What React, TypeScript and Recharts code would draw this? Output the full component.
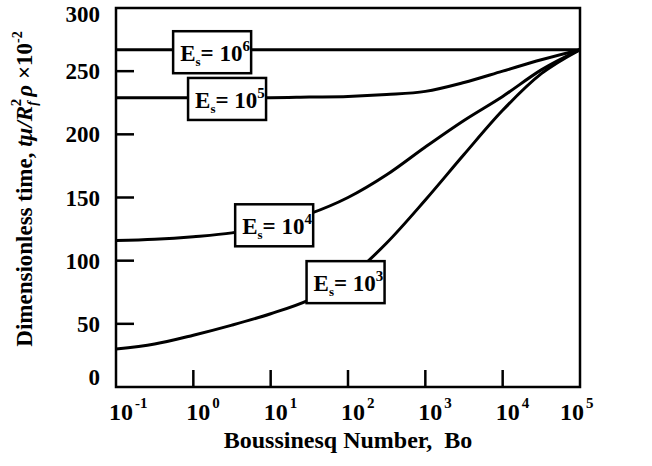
import React from "react";
import {
  LineChart,
  Line,
  XAxis,
  YAxis,
  ReferenceArea,
  ReferenceDot,
} from "recharts";

// Boussinesq number (log axis)
const bo = [0.1, 0.316, 1, 3.16, 10, 31.6, 100, 316, 1000, 3160, 10000, 31600, 100000];

// dimensionless time x 10^-2 for each E_s
const es6 = [267, 267, 267, 267, 267, 267, 267, 267, 267, 267, 267, 267, 267];
const es5 = [229, 229, 229, 229, 229, 229.5, 230, 231.5, 234, 241, 250, 259, 267];
const es4 = [116, 117, 119, 122, 128, 137, 150, 168, 190, 211, 230, 251, 267];
const es3 = [30, 34, 41, 49, 58, 69, 86, 114, 148, 184, 219, 248, 267];

const xTicks = [0.1, 1, 10, 100, 1000, 10000, 100000];
const xExp = ["-1", "0", "1", "2", "3", "4", "5"];
const yTicks = [0, 50, 100, 150, 200, 250, 300];

// label boxes: exponent + where the box sits
const boxExp = ["6", "5", "4", "3"];
const boxBo = [1.75, 2.73, 11.1, 93];
const boxVal = [265, 228, 128, 83];

const data = bo.map((b, i) => ({
  bo: b,
  e6: es6[i],
  e5: es5[i],
  e4: es4[i],
  e3: es3[i],
}));

const FONT = "'Liberation Serif', 'Times New Roman', serif";

const XTick = (props: any) => {
  const { x, y, payload } = props;
  const i = xTicks.indexOf(payload.value);
  const last = xTicks.length - 1;
  const inner = i > 0 && i < last;
  // "10" starts just left of the tick, last label pulled in
  const dx = i === last ? -20 : -7;
  return (
    <g>
      {inner && <line x1={x} y1={y} x2={x} y2={y - 17} stroke="#000" strokeWidth={2.5} />}
      <text
        x={x + dx}
        y={y + 33}
        textAnchor="start"
        fontFamily={FONT}
        fontWeight="bold"
        fontSize={24}
        fill="#000"
      >
        10
        <tspan fontSize={15} dy={-12} dx={2}>
          {xExp[i]}
        </tspan>
      </text>
    </g>
  );
};

const YTick = (props: any) => {
  const { x, y, payload } = props;
  const v = payload.value;
  const inner = v > 0 && v < 300;
  // the end labels sit a little inside in the original
  const shift = v === 300 ? 6 : v === 0 ? -10 : 0;
  return (
    <g>
      {inner && <line x1={x} y1={y} x2={x + 18} y2={y} stroke="#000" strokeWidth={2.5} />}
      <text
        x={x - 16}
        y={y + shift + 8}
        textAnchor="end"
        fontFamily={FONT}
        fontWeight="bold"
        fontSize={23}
        fill="#000"
      >
        {v}
      </text>
    </g>
  );
};

const EsBox = (exp: string) => (props: any) => {
  const { cx, cy } = props;
  return (
    <g>
      <rect x={cx - 39} y={cy - 21} width={78} height={42} fill="#fff" stroke="#000" strokeWidth={2.5} />
      <text x={cx - 32} y={cy + 9} fontFamily={FONT} fontWeight="bold" fontSize={23} fill="#000">
        E
        <tspan fontSize={13} dy={5}>
          s
        </tspan>
        <tspan dy={-5}>= 10</tspan>
        <tspan fontSize={15} dy={-10}>
          {exp}
        </tspan>
      </text>
    </g>
  );
};

const YLabel = () => (
  <text
    transform="translate(32, 189) rotate(-90)"
    textAnchor="middle"
    fontFamily={FONT}
    fontWeight="bold"
    fontSize={23}
    fill="#000"
  >
    Dimensionless time,{" "}
    <tspan fontStyle="italic">tμ/R</tspan>
    <tspan fontSize={14} dy={5} fontStyle="italic">
      f
    </tspan>
    <tspan fontSize={15} dy={-16} dx={-5}>
      2
    </tspan>
    <tspan fontStyle="italic" dy={11} dx={2}>
      ρ
    </tspan>
    <tspan> ×10</tspan>
    <tspan fontSize={14} dy={-10}>
      -2
    </tspan>
  </text>
);

export default function App() {
  return (
    <div style={{ position: "absolute", left: 0, top: 0, background: "#fff" }}>
      <LineChart
        width={652}
        height={466}
        data={data}
        margin={{ top: 8, right: 72, bottom: 49, left: 56 }}
      >
        <XAxis
          dataKey="bo"
          type="number"
          scale="log"
          domain={[0.1, 100000]}
          ticks={xTicks}
          allowDataOverflow
          axisLine={false}
          tickLine={false}
          tickSize={0}
          tickMargin={0}
          height={30}
          tick={<XTick />}
          interval={0}
        />
        <YAxis
          type="number"
          domain={[0, 300]}
          ticks={yTicks}
          axisLine={false}
          tickLine={false}
          tickSize={0}
          tickMargin={0}
          width={60}
          tick={<YTick />}
          interval={0}
          label={<YLabel />}
        />
        <Line dataKey="e6" type="monotone" stroke="#000" strokeWidth={3} dot={false} isAnimationActive={false} />
        <Line dataKey="e5" type="monotone" stroke="#000" strokeWidth={3} dot={false} isAnimationActive={false} />
        <Line dataKey="e4" type="monotone" stroke="#000" strokeWidth={3} dot={false} isAnimationActive={false} />
        <Line dataKey="e3" type="monotone" stroke="#000" strokeWidth={3} dot={false} isAnimationActive={false} />
        <ReferenceArea
          x1={0.1}
          x2={100000}
          y1={0}
          y2={300}
          fill="none"
          fillOpacity={0}
          stroke="#000"
          strokeWidth={2.5}
          strokeOpacity={1}
        />
        {boxExp.map((e, i) => (
          <ReferenceDot key={e} x={boxBo[i]} y={boxVal[i]} r={1} shape={EsBox(e)} />
        ))}
      </LineChart>
      <div
        style={{
          position: "absolute",
          left: 0,
          top: 427,
          width: 696,
          textAlign: "center",
          fontFamily: FONT,
          fontWeight: "bold",
          fontSize: 24,
          whiteSpace: "pre",
        }}
      >
        Boussinesq Number,  Bo
      </div>
    </div>
  );
}
